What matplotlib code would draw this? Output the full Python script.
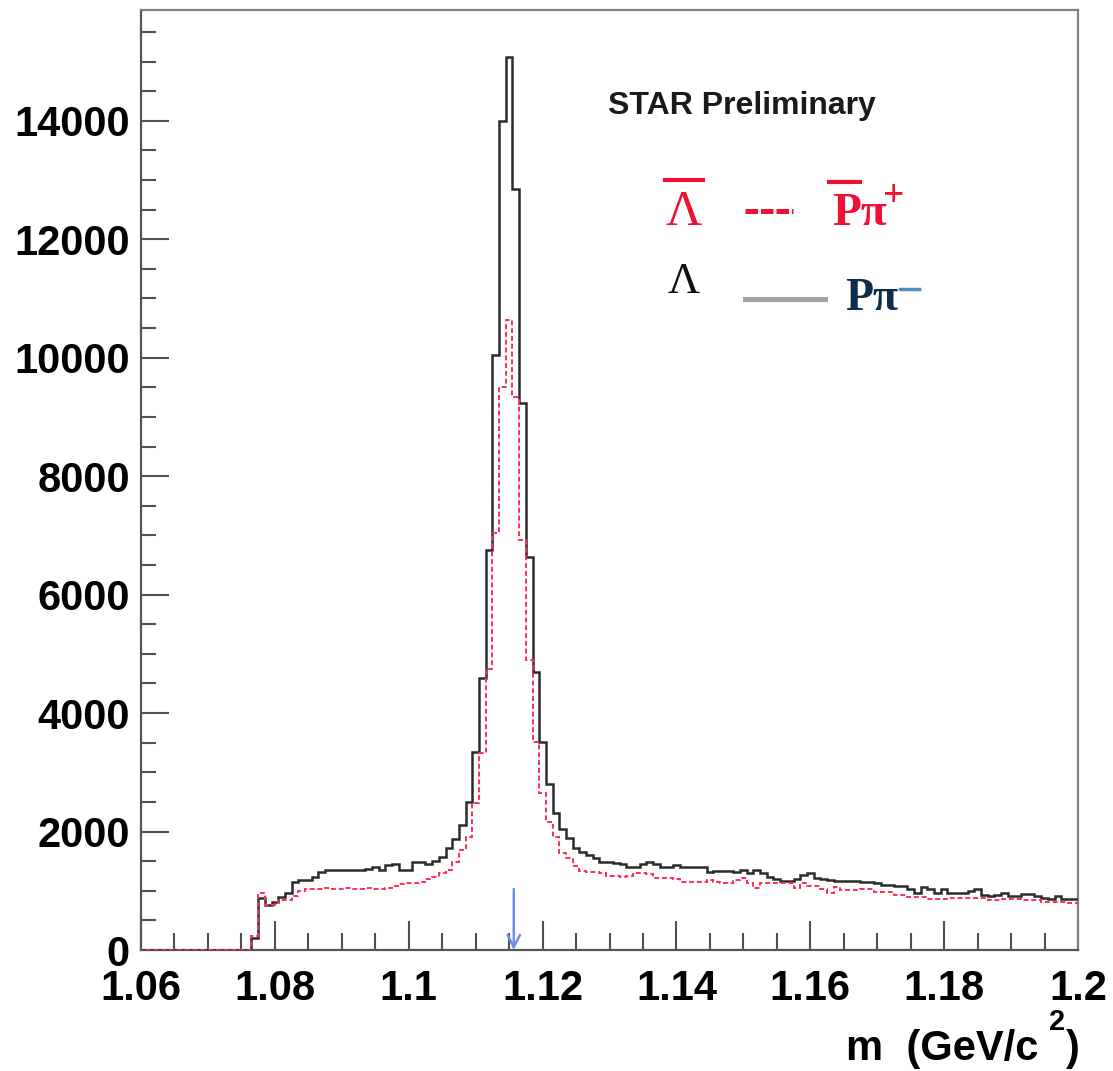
import numpy as np
import matplotlib.pyplot as plt
from matplotlib.lines import Line2D
from matplotlib.ticker import MultipleLocator

plt.rcParams['font.family'] = ['Liberation Sans', 'DejaVu Sans']
plt.rcParams['mathtext.default'] = 'regular'

# invariant mass histograms, 1 MeV bins centred on 1.060 ... 1.200 GeV
lam = [0] * 17 + [
    200, 880, 760, 810, 900, 960, 1150, 1180, 1180, 1230,
    1320, 1350, 1350, 1350, 1350, 1350, 1350, 1360, 1400, 1350,
    1440, 1450, 1350, 1350, 1490, 1480, 1450, 1500, 1570, 1720,
    1870, 2110, 2500, 3340, 4590, 6750, 10040, 13990, 15070, 12840,
    9230, 6630, 4690, 3510, 2800, 2310, 2050, 1890, 1720, 1650,
    1600, 1550, 1485, 1485, 1470, 1450, 1400, 1400, 1450, 1485,
    1450, 1400, 1400, 1430, 1400, 1400, 1400, 1400, 1320, 1335,
    1335, 1335, 1320, 1350, 1300, 1350, 1300, 1240, 1200, 1160,
    1160, 1200, 1270, 1300, 1220, 1200, 1180, 1160, 1160, 1160,
    1160, 1150, 1140, 1130, 1100, 1090, 1080, 1080, 1030, 960,
    1070, 1030, 970, 1030, 970, 960, 960, 990, 1030, 930,
    920, 930, 960, 910, 910, 940, 940, 910, 870, 860,
    910, 860, 860, 860]

antilam = [0] * 17 + [
    230, 960, 760, 760, 840, 840, 910, 1000, 1030, 1030,
    1030, 1040, 1030, 1030, 1040, 1030, 1030, 1040, 1030, 1030,
    1050, 1080, 1120, 1130, 1130, 1140, 1200, 1230, 1300, 1350,
    1480, 1680, 1910, 2480, 3330, 4750, 7040, 9500, 10630, 9330,
    6920, 4900, 3520, 2650, 2160, 1900, 1640, 1550, 1420, 1340,
    1320, 1320, 1300, 1250, 1250, 1240, 1250, 1300, 1300, 1280,
    1215, 1215, 1215, 1200, 1150, 1150, 1150, 1150, 1180, 1150,
    1130, 1130, 1180, 1215, 1130, 1045, 1130, 1130, 1130, 1130,
    1130, 1045, 1130, 1080, 1080, 1030, 960, 1060, 1010, 1010,
    1010, 1030, 1030, 980, 980, 980, 930, 930, 895, 895,
    895, 860, 860, 860, 880, 880, 880, 880, 880, 880,
    845, 845, 860, 860, 860, 845, 845, 845, 810, 810,
    810, 810, 790, 790]

m_lambda = 1.1157
edges = 1.0595 + 0.001 * np.arange(len(lam) + 1)

W, H = 1113, 1071
fig = plt.figure(figsize=(W / 100, H / 100), dpi=100)
ax = fig.add_axes([141 / W, 1 - 950 / H, (1078 - 141) / W, (950 - 10) / H])

ax.stairs(lam, edges, color='#2b2b2b', lw=1.8, zorder=3)
ax.stairs(antilam, edges, color='#ff2d55', lw=1.4, ls=(0, (2.5, 1.5)), zorder=4)

# nominal Lambda mass
ax.annotate('', xy=(m_lambda, 0), xytext=(m_lambda, 1030),
            arrowprops=dict(arrowstyle='->', color='#6d8fe8', lw=1.8,
                            mutation_scale=22, shrinkA=0, shrinkB=0),
            zorder=5)

ax.set_xlim(1.06, 1.2)
ax.set_ylim(0, 15870)
ax.xaxis.set_major_locator(MultipleLocator(0.02))
ax.xaxis.set_minor_locator(MultipleLocator(0.005))
ax.yaxis.set_major_locator(MultipleLocator(2000))
ax.yaxis.set_minor_locator(MultipleLocator(500))
ax.set_xticks([1.06, 1.08, 1.1, 1.12, 1.14, 1.16, 1.18, 1.2])
ax.set_xticklabels(['1.06', '1.08', '1.1', '1.12', '1.14', '1.16', '1.18', '1.2'])

ax.tick_params(axis='both', which='both', direction='in', color='#505050',
               width=1.5, top=False, right=False)
ax.tick_params(axis='x', which='major', length=21, pad=14, labelsize=30)
ax.tick_params(axis='x', which='minor', length=12)
ax.tick_params(axis='y', which='major', length=20, pad=8, labelsize=30)
ax.tick_params(axis='y', which='minor', length=11)
for lab in ax.get_xticklabels() + ax.get_yticklabels():
    lab.set_fontweight('bold')

for side in ['left', 'bottom']:
    ax.spines[side].set_color('#555555')
    ax.spines[side].set_linewidth(1.6)
for side in ['top', 'right']:
    ax.spines[side].set_color('#808080')
    ax.spines[side].set_linewidth(1.6)


def fx(x):
    return x / W


def fy(y):
    return 1 - y / H


# axis title
fig.text(fx(846), fy(1060), 'm  (GeV/c', fontsize=30, fontweight='bold',
         va='baseline', ha='left')
fig.text(fx(1049), fy(1030), '2', fontsize=21, fontweight='bold',
         va='baseline', ha='left')
fig.text(fx(1066), fy(1060), ')', fontsize=30, fontweight='bold',
         va='baseline', ha='left')

# legend block
fig.text(fx(608), fy(106), 'STAR Preliminary', fontsize=23, fontweight='bold',
         va='center', ha='left', color='#1a1a1a')

red_txt = '#ee1133'
serif = ['Liberation Serif', 'DejaVu Serif']
fig.text(fx(684), fy(225), 'Λ', fontsize=36, family=serif, color=red_txt,
         va='baseline', ha='center')
fig.add_artist(Line2D([fx(665), fx(703)], [fy(180), fy(180)], lw=3,
                      color=red_txt, transform=fig.transFigure))
fig.add_artist(Line2D([fx(745), fx(793)], [fy(211), fy(211)], lw=3.6,
                      ls=(0, (2.5, 0.6)), color=red_txt, transform=fig.transFigure))
fig.text(fx(832), fy(225), 'Pπ', fontsize=34, family=serif, fontweight='bold',
         color=red_txt, va='baseline', ha='left')
fig.add_artist(Line2D([fx(829), fx(860)], [fy(182), fy(182)], lw=3,
                      color=red_txt, transform=fig.transFigure))
fig.text(fx(894), fy(206), '+', fontsize=27, family=serif, fontweight='bold',
         color=red_txt, va='baseline', ha='center')

fig.text(fx(684), fy(293), 'Λ', fontsize=32, family=serif, color='#111111',
         va='baseline', ha='center')
fig.add_artist(Line2D([fx(745), fx(825)], [fy(299), fy(299)], lw=3.6,
                      color='#a0a4aa', transform=fig.transFigure))
blue_txt = '#0d2d4a'
fig.text(fx(845), fy(310), 'Pπ', fontsize=33, family=serif, fontweight='bold',
         color=blue_txt, va='baseline', ha='left')
fig.add_artist(Line2D([fx(900), fx(919)], [fy(289), fy(289)], lw=2.5,
                      color='#4d8cc0', transform=fig.transFigure))

fig.savefig('out.png', dpi=100)
